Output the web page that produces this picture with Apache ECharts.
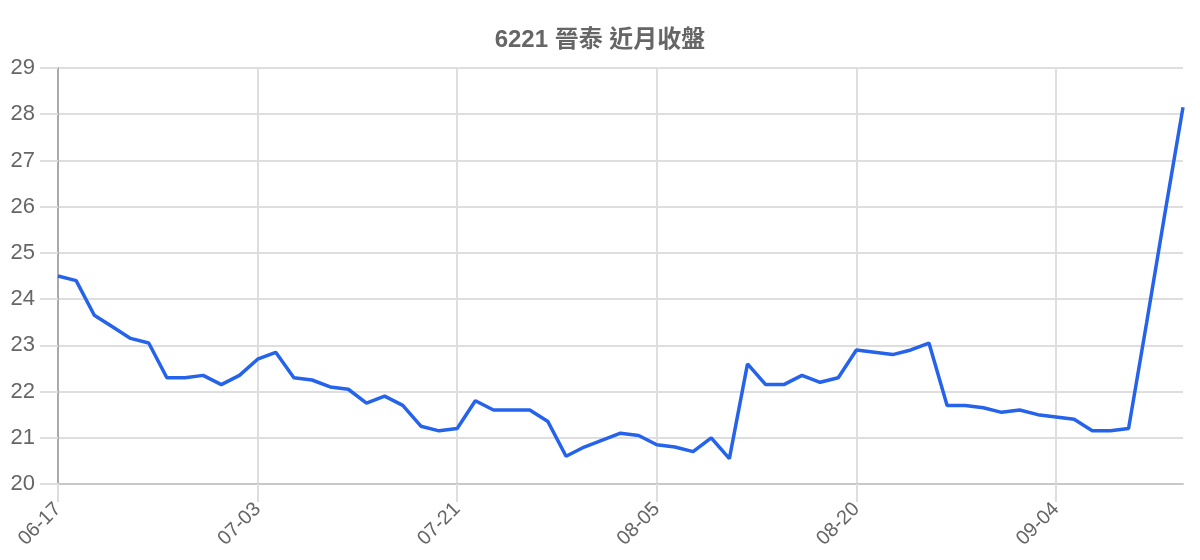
<!DOCTYPE html>
<html>
<head>
<meta charset="utf-8">
<title>6221 晉泰 近月收盤</title>
<script src="https://cdn.jsdelivr.net/npm/echarts@6/dist/echarts.min.js"></script>
<style>
	html, body { margin: 0; padding: 0; background: #fff; }
	#closeChart { width: 1200px; height: 560px; }
</style>
</head>
<body>
<div id="closeChart"></div>
<script>
// 日期 (類別軸)
var dates = [
	'06-17','06-18','06-19','06-20','06-23','06-24','06-25','06-26','06-27','06-30','07-02',
	'07-03','07-04','07-07','07-08','07-09','07-10','07-11','07-14','07-15','07-16','07-18',
	'07-21','07-22','07-23','07-24','07-25','07-28','07-29','07-30','07-31','08-01','08-04',
	'08-05','08-06','08-07','08-08','08-11','08-12','08-13','08-14','08-15','08-18','08-19',
	'08-20','08-21','08-22','08-25','08-26','08-27','08-28','08-29','09-01','09-02','09-03',
	'09-04','09-05','09-08','09-09','09-10','09-11','09-12','09-15'
];
// 收盤價
var closes = [
	24.5, 24.4, 23.65, 23.4, 23.15, 23.05, 22.3, 22.3, 22.35, 22.15, 22.35,
	22.7, 22.85, 22.3, 22.25, 22.1, 22.05, 21.75, 21.9, 21.7, 21.25, 21.15,
	21.2, 21.8, 21.6, 21.6, 21.6, 21.35, 20.6, 20.8, 20.95, 21.1, 21.05,
	20.85, 20.8, 20.7, 21.0, 20.55, 22.6, 22.15, 22.15, 22.35, 22.2, 22.3,
	22.9, 22.85, 22.8, 22.9, 23.05, 21.7, 21.7, 21.65, 21.55, 21.6, 21.5,
	21.45, 21.4, 21.15, 21.15, 21.2, 23.5, 25.85, 28.15
];
var yMin = 20, yMax = 29, yStep = 1;
var labelEvery = 10;	// 每 11 個顯示一個標籤

var fontFamily = '"Liberation Sans", Arial, "Noto Sans CJK TC", sans-serif';
var gridColor = '#dedede';

// 刻度線只有 5px, 疊幾條偏移的軸讓刻度延伸到 18px
var tickOffsets = [5, 10, 13];

var extraYAxis = function(off){
	return {
		type: 'value',
		position: 'left',
		offset: off,
		min: yMin,
		max: yMax,
		interval: yStep,
		axisLine: { show: true, lineStyle: { color: 'rgba(0,0,0,0)' } },
		axisLabel: { show: false },
		splitLine: { show: false },
		axisTick: {
			show: true,
			lineStyle: { color: gridColor, width: 2 }
		}
	};
};
var extraXAxis = function(off){
	return {
		type: 'category',
		position: 'bottom',
		offset: off,
		data: dates,
		boundaryGap: false,
		axisLine: { show: true, lineStyle: { color: 'rgba(0,0,0,0)' } },
		axisLabel: { show: false },
		splitLine: { show: false },
		axisTick: {
			show: true,
			interval: labelEvery,
			lineStyle: { color: gridColor, width: 2 }
		}
	};
};

var closeEchart = echarts.init(document.getElementById('closeChart'));
var closeOption = {
	animation: false,
	textStyle: { fontFamily: fontFamily },
	title: {
		text: '6221 晉泰 近月收盤',
		left: 'center',
		top: 23,
		textStyle: {
			color: '#666',
			fontSize: 24,
			fontWeight: 'bold',
			fontFamily: fontFamily
		}
	},
	grid: {
		left: 58,
		right: 17,
		top: 68,
		bottom: 76
	},
	xAxis: [{
		type: 'category',
		data: dates,
		boundaryGap: false,
		axisLine: {
			show: true,
			lineStyle: { color: '#c8c8c8', width: 2 }
		},
		axisTick: {
			show: true,
			interval: labelEvery,
			lineStyle: { color: gridColor, width: 2 }
		},
		axisLabel: {
			interval: labelEvery,
			rotate: 45,
			margin: 22,
			fontSize: 20,
			color: '#666',
			fontFamily: fontFamily
		},
		splitLine: {
			show: true,
			interval: labelEvery,
			lineStyle: { color: gridColor, width: 2 }
		}
	}].concat(tickOffsets.map(extraXAxis)),
	yAxis: [{
		type: 'value',
		min: yMin,
		max: yMax,
		interval: yStep,
		axisLine: {
			show: true,
			lineStyle: { color: '#aaaaaa', width: 2 }
		},
		axisTick: {
			show: true,
			lineStyle: { color: gridColor, width: 2 }
		},
		axisLabel: {
			margin: 23,
			fontSize: 22,
			color: '#666',
			fontFamily: fontFamily
		},
		splitLine: {
			lineStyle: { color: gridColor, width: 2 }
		}
	}].concat(tickOffsets.map(extraYAxis)),
	series: [{
		name: '收盤',
		type: 'line',
		xAxisIndex: 0,
		yAxisIndex: 0,
		data: closes,
		showSymbol: false,
		smooth: false,
		lineStyle: { color: '#2563eb', width: 3.5 },
		itemStyle: { color: '#2563eb' }
	}]
};
closeEchart.setOption(closeOption);
</script>
</body>
</html>
